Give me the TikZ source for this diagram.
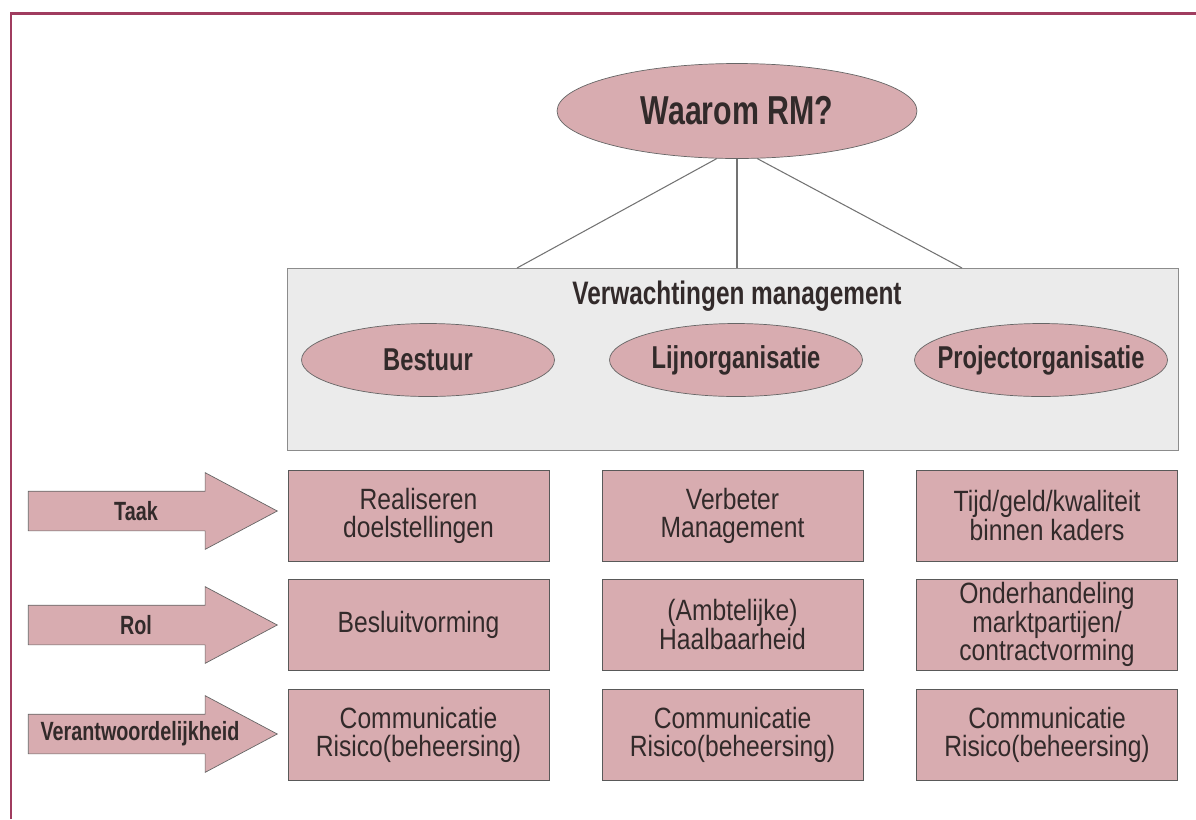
\documentclass[tikz,border=0pt]{standalone}
\usepackage{fontspec}
\setmainfont{Liberation Sans}[FakeStretch=0.84, BoldFeatures={FakeStretch=0.75}]
\usetikzlibrary{shapes.geometric, shapes.arrows, positioning}
\definecolor{rmroze}{RGB}{216,172,176}
\definecolor{rmgrijs}{RGB}{235,235,235}
\definecolor{rmrand}{RGB}{160,60,95}
\definecolor{rmtekst}{RGB}{50,42,42}

\begin{document}
\begin{tikzpicture}[
  x=0.02cm, y=-0.02cm,
  vak/.style={rectangle, draw=black!65, fill=rmroze, minimum width=5.22cm, minimum height=1.82cm, inner ysep=1pt, align=center, text=rmtekst, font=\fontsize{16.7}{16}\selectfont},
  ovaaltekst/.style={text=rmtekst, font=\bfseries\fontsize{18}{20}\selectfont},
  ovaal/.style={ellipse, draw=black!60, fill=rmroze, minimum width=5.06cm, minimum height=1.46cm, inner sep=0pt, label={[ovaaltekst]center:#1}},
  pijl/.style={single arrow, draw=black!60, fill=rmroze, minimum width=1.52cm, minimum height=4.98cm, single arrow head extend=0.37cm, single arrow tip angle=56, inner sep=0pt, anchor=tip},
  pijltekst/.style={text=rmtekst, font=\bfseries\fontsize{15}{17}\selectfont},
  lijn/.style={draw=black!55, line width=0.6pt}
]
\useasboundingbox (0,0) rectangle (1196,819);
\draw[rmrand, line width=0.06cm] (11,819) |- (1196,13);

% top
\node[ellipse, draw=black!60, fill=rmroze, minimum width=7.2cm, minimum height=1.9cm, text=rmtekst, font=\bfseries\fontsize{23}{26}\selectfont] (waarom) at (737,111) {Waarom RM?};

\node[rectangle, draw=black!45, fill=rmgrijs, minimum width=17.82cm, minimum height=3.64cm] (verw) at (732.5,359) {};
\node[text=rmtekst, font=\bfseries\fontsize{18.5}{20}\selectfont] (verwtitel) at (737,296) {Verwachtingen management};
\node[ovaal=Bestuur] (bestuur) at (428,360) {};
\node[ovaal=Lijnorganisatie] (lijn) at (736,360) {};
\node[ovaal=Projectorganisatie] (project) at (1041,360) {};

\coordinate (verwL) at (517,268);
\coordinate (verwR) at (962,268);
\draw[lijn] (waarom.247) -- (verwL);
\draw[lijn] (waarom.south) -- (waarom.south |- verw.north);
\draw[lijn] (waarom.293) -- (verwR);

% rows
\node[vak] (t1) at (418.5,515.5) {Realiseren\\doelstellingen};
\node[vak] (t2) at (732.5,515.5) {Verbeter\\Management};
\node[vak] (t3) at (1047,515.5) {Tijd/geld/kwaliteit\\binnen kaders};
\node[vak] (r1) at (418.5,624.5) {Besluitvorming};
\node[vak] (r2) at (732.5,624.5) {(Ambtelijke)\\Haalbaarheid};
\node[vak] (r3) at (1047,624.5) {Onderhandeling\\marktpartijen/\\contractvorming};
\node[vak] (v1) at (418.5,734.5) {Communicatie\\Risico(beheersing)};
\node[vak] (v2) at (732.5,734.5) {Communicatie\\Risico(beheersing)};
\node[vak] (v3) at (1047,734.5) {Communicatie\\Risico(beheersing)};

% arrows
\node[pijl] (taak) at (278,511) {\rule{0pt}{0.78cm}};
\node[pijl] (rol) at (278,625) {\rule{0pt}{0.78cm}};
\node[pijl] (verant) at (278,734) {\rule{0pt}{0.78cm}};
\node[pijltekst] at (136,511) {Taak};
\node[pijltekst] at (136,625) {Rol};
\node[pijltekst] at (140,734) {Verantwoordelijkheid};
\end{tikzpicture}
\end{document}
